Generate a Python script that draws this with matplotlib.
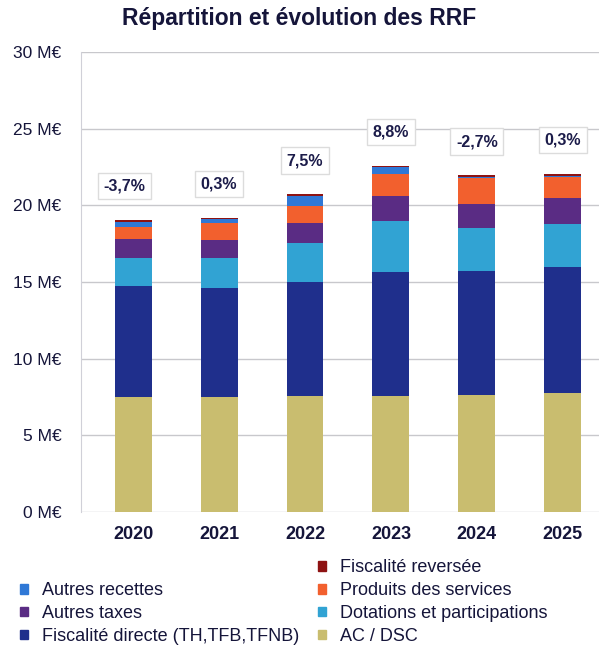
import numpy as np
import matplotlib
matplotlib.use('Agg')
from matplotlib import pyplot as plt
from matplotlib.patches import Patch

plt.rcParams['font.family'] = ['Liberation Sans', 'DejaVu Sans']

years = ['2020', '2021', '2022', '2023', '2024', '2025']
ac_dsc = [7.48, 7.48, 7.57, 7.57, 7.61, 7.74]
fisc_directe = [7.26, 7.11, 7.45, 8.11, 8.13, 8.26]
dotations = [1.85, 1.96, 2.51, 3.33, 2.77, 2.79]
autres_taxes = [1.20, 1.19, 1.34, 1.63, 1.56, 1.71]
produits_services = [0.82, 1.09, 1.09, 1.42, 1.72, 1.33]
autres_recettes = [0.31, 0.26, 0.67, 0.41, 0.05, 0.06]
fisc_reversee = [0.13, 0.09, 0.09, 0.11, 0.12, 0.16]
evolution = ['-3,7%', '0,3%', '7,5%', '8,8%', '-2,7%', '0,3%']

series = [
    ('AC / DSC', ac_dsc, '#c9bd6f'),
    ('Fiscalité directe (TH,TFB,TFNB)', fisc_directe, '#1f2f8c'),
    ('Dotations et participations', dotations, '#31a3d3'),
    ('Autres taxes', autres_taxes, '#5a2c84'),
    ('Produits des services', produits_services, '#f2602e'),
    ('Autres recettes', autres_recettes, '#2f78d6'),
    ('Fiscalité reversée', fisc_reversee, '#8e1212'),
]
txt_col = '#15153a'

fig = plt.figure(figsize=(5.99, 6.47), dpi=100)
ax = fig.add_axes([81/599, 1-512/647, 1-81/599, 460/647])

x = np.arange(len(years))
bottom = np.zeros(len(years))
for name, vals, col in series:
    ax.bar(x, vals, 0.43, bottom=bottom, color=col, label=name, zorder=3)
    bottom += np.array(vals)

for xi, tot, lab in zip(x, bottom, evolution):
    ax.text(xi - 0.1 if xi == 0 else xi, tot + 2.2, lab, ha='center', va='center',
            fontsize=11.5, fontweight='bold', color='#1c1c4a', zorder=4,
            bbox=dict(boxstyle='square,pad=0.35', fc='white', ec='#dcdcdc', lw=1))

ax.set_xlim(-0.606, 5.42)
ax.set_ylim(0, 30)
ax.set_yticks(range(0, 31, 5))
ax.set_yticklabels([f'{v} M€' for v in range(0, 31, 5)], fontsize=12.5, color=txt_col)
ax.set_xticks(x)
ax.set_xticklabels(years, fontsize=13, fontweight='bold', color=txt_col)
ax.tick_params(length=0)
ax.tick_params(axis='y', pad=14)
ax.tick_params(axis='x', pad=10)
ax.grid(axis='y', color='#c8c8cc', lw=1, zorder=0)
for s in ['top', 'right', 'bottom']:
    ax.spines[s].set_visible(False)
ax.spines['left'].set_color('#d0d0d8')

fig.text(0.5, 1-19/647, 'Répartition et évolution des RRF', ha='center', va='center',
         fontsize=16.5, fontweight='bold', color=txt_col)

handles = {name: Patch(color=col) for name, vals, col in series}
col1 = ['Autres recettes', 'Autres taxes', 'Fiscalité directe (TH,TFB,TFNB)']
col2 = ['Fiscalité reversée', 'Produits des services', 'Dotations et participations', 'AC / DSC']
kw = dict(frameon=False, fontsize=13, handlelength=0.45, handleheight=0.45,
          handletextpad=0.75, labelspacing=0.33, borderaxespad=0, borderpad=0,
          labelcolor=txt_col)
fig.legend([handles[n] for n in col1], col1, loc='lower left',
           bbox_to_anchor=(20/599, 1-645/647), **kw)
fig.legend([handles[n] for n in col2], col2, loc='lower left',
           bbox_to_anchor=(318/599, 1-645/647), **kw)

fig.savefig('out.png', dpi=100)
